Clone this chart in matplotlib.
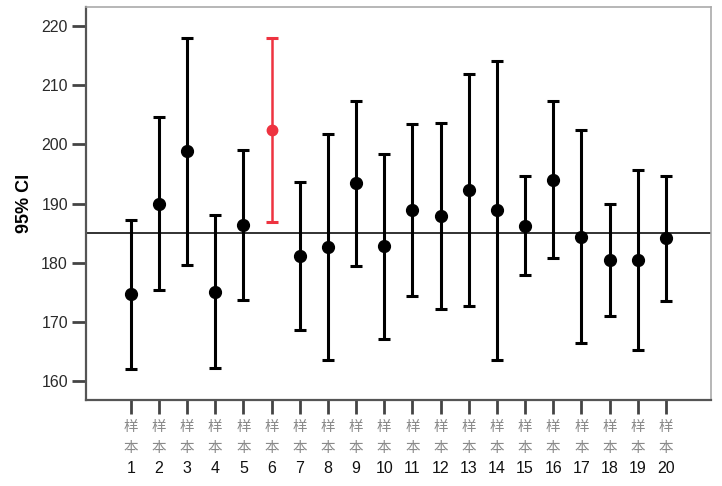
import matplotlib
matplotlib.use("Agg")
import matplotlib.pyplot as plt
from matplotlib.transforms import blended_transform_factory

plt.rcParams["font.family"] = ["Liberation Sans", "DejaVu Sans"]

# 样本 1..20: 均值与 95% 置信区间
samples = list(range(1, 21))
means = [174.6, 190.0, 198.9, 175.0, 186.3, 202.5, 181.1, 182.6, 193.4, 182.8,
         188.9, 187.9, 192.3, 188.9, 186.2, 194.0, 184.4, 180.4, 180.4, 184.1]
upper = [187.2, 204.7, 218.1, 188.0, 199.0, 218.1, 193.7, 201.8, 207.4, 198.4,
         203.5, 203.6, 211.9, 214.2, 194.7, 207.3, 202.5, 190.0, 195.6, 194.7]
lower = [162.0, 175.3, 179.6, 162.2, 173.6, 186.8, 168.6, 163.4, 179.4, 167.0,
         174.4, 172.1, 172.7, 163.5, 177.8, 180.8, 166.3, 170.9, 165.2, 173.5]
highlight = 6
ref_value = 185
yticks = [160, 170, 180, 190, 200, 210, 220]

fig = plt.figure(figsize=(7.22, 4.86), dpi=100)
ax = fig.add_axes([86 / 722, 1 - 400 / 486, (711 - 86) / 722, (400 - 7) / 486])

for s, m, u, l in zip(samples, means, upper, lower):
    red = s == highlight
    col = "#ee3340" if red else "black"
    ax.errorbar(s, m, yerr=[[m - l], [u - m]], fmt="o", color=col, ecolor=col,
                markersize=7.5 if red else 8.5, elinewidth=1.8 if red else 2.2,
                capsize=4, capthick=2.2, zorder=3)

ax.axhline(ref_value, color="#222222", lw=1.3, zorder=2)

ax.set_xlim(-0.59, 21.6)
ax.set_ylim(156.7, 223.3)
ax.set_yticks(yticks)
ax.tick_params(axis="y", length=10, width=2, color="#444444", labelsize=11.5,
               labelcolor="#2a2a2a", pad=3)
ax.set_xticks(samples)
ax.set_xticklabels([])
ax.tick_params(axis="x", length=10, width=2, color="#444444")
ax.set_ylabel("95% CI", fontsize=13, fontweight="bold", labelpad=6)

for side in ["left", "bottom"]:
    ax.spines[side].set_color("#555555")
    ax.spines[side].set_linewidth(1.6)
for side in ["top", "right"]:
    ax.spines[side].set_color("#aaaaaa")
    ax.spines[side].set_linewidth(1.2)

trans = blended_transform_factory(ax.transData, ax.transAxes)
cjk = ["Noto Sans CJK SC", "DejaVu Sans"]
for s in samples:
    ax.annotate("样", (s, 0), xycoords=trans, xytext=(0, -19.5), textcoords="offset points",
                ha="center", va="center", fontsize=10.5, color="#8a8a8a", family=cjk)
    ax.annotate("本", (s, 0), xycoords=trans, xytext=(0, -34.5), textcoords="offset points",
                ha="center", va="center", fontsize=10.5, color="#8a8a8a", family=cjk)
    ax.annotate(str(s), (s, 0), xycoords=trans, xytext=(0, -49), textcoords="offset points",
                ha="center", va="center", fontsize=11.5, color="#111111")

fig.savefig("out.png", dpi=100)
